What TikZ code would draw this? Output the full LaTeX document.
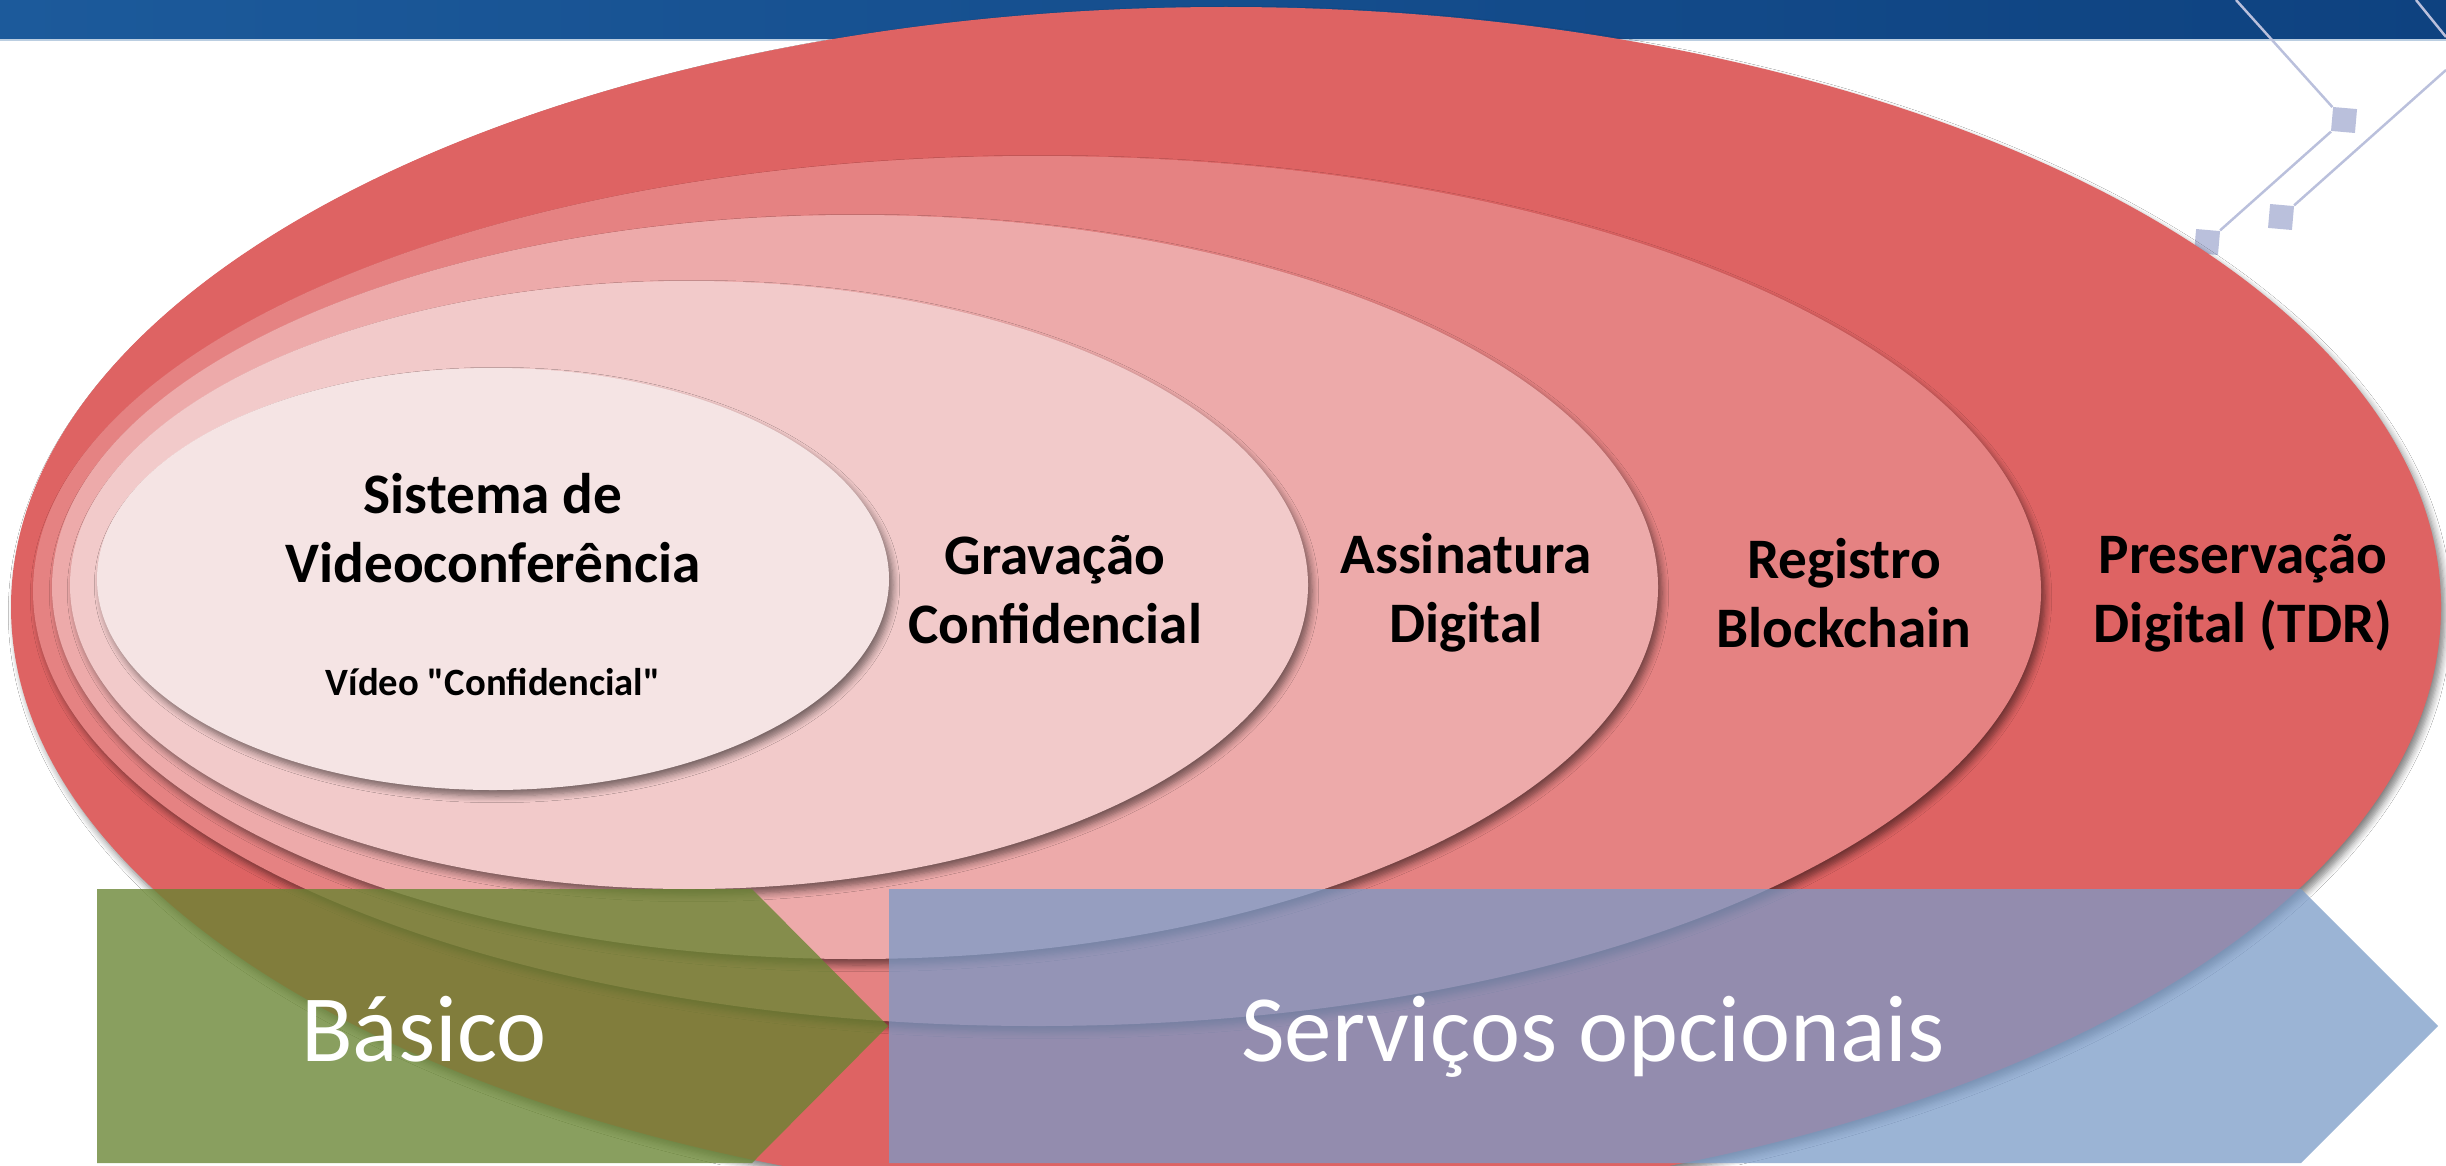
\documentclass[tikz,border=0pt]{standalone}
\usepackage{fontspec}
\setmainfont{Carlito}[Ligatures=TeXOff]
\usetikzlibrary{shadows.blur}

\definecolor{ringA}{RGB}{245,228,228}
\definecolor{ringB}{RGB}{242,202,202}
\definecolor{ringC}{RGB}{237,170,170}
\definecolor{ringD}{RGB}{229,130,130}
\definecolor{ringE}{RGB}{222,99,99}
\definecolor{barleft}{RGB}{28,90,155}
\definecolor{barright}{RGB}{14,66,128}
\definecolor{chipblue}{RGB}{186,192,220}
\definecolor{basegreen}{RGB}{104,133,50}
\definecolor{optblue}{RGB}{122,155,200}

\tikzset{
  ring/.style={blur shadow={shadow xshift=0.04cm, shadow yshift=-0.06cm,
      shadow blur steps=6, shadow opacity=50}},
  lbl/.style={font=\bfseries\fontsize{16.3}{19.6}\selectfont, align=center},
  tag/.style={font=\fontsize{27}{32}\selectfont, text=white, anchor=base},
  chip/.style={fill=chipblue, minimum size=0.24cm, inner sep=0pt, rotate=-5},
  wire/.style={draw=chipblue, line width=0.7pt}
}

\begin{document}
\begin{tikzpicture}
  \useasboundingbox (0,0) rectangle (24.46,11.65);
  \fill[white] (0,0) rectangle (24.46,11.65);

  % top bar
  \shade[left color=barleft, right color=barright] (0,11.25) rectangle (24.46,11.65);
  \draw[white!70!barleft, line width=0.6pt] (0,11.25) -- (24.46,11.25);

  % wires and chips, top right
  \coordinate (w1) at (22.36,11.65);
  \coordinate (w2) at (24.46,10.95);
  \coordinate (w3) at (24.16,11.65);
  \coordinate (w4) at (24.46,11.28);
  \node[chip] (s1) at (23.44,10.45) {};
  \node[chip] (s2) at (22.07,9.23) {};
  \node[chip] (s3) at (22.81,9.48) {};
  \draw[wire] (w1) -- (s1);
  \draw[wire] (s1) -- (s2);
  \draw[wire] (w2) -- (s3);
  \draw[wire] (w3) -- (w4);

  % rings, outer first
  \fill[ringE, ring] (12.26,5.58) ellipse [x radius=12.15, y radius=6.0];
  \fill[ringD, ring] (10.37,5.74) ellipse [x radius=10.04, y radius=4.35];
  \fill[ringC, ring] (8.55,5.78) ellipse [x radius=8.03, y radius=3.72];
  \fill[ringB, ring] (6.89,5.80) ellipse [x radius=6.19, y radius=3.04];
  \fill[ringA, ring] (4.93,5.86) ellipse [x radius=3.96, y radius=2.11];

  % ring labels
  \node[lbl] (sis) at (4.93,6.37) {Sistema de\\Videoconferência};
  \node[font=\bfseries\fontsize{11}{13}\selectfont] (vid) at (4.93,4.83) {Vídeo "Confidencial"};
  \node[lbl] (grv) at (10.55,5.75) {Gravação\\Confidencial};
  \node[lbl] (ass) at (14.66,5.72) {Assinatura\\Digital};
  \node[lbl] (reg) at (18.44,5.72) {Registro\\Blockchain};
  \node[lbl] (pre) at (22.43,5.72) {Preservação\\Digital (TDR)};

  % arrows along the bottom
  \fill[basegreen, fill opacity=0.78] (0.97,2.76) -- (7.52,2.76) -- (8.88,1.39) -- (7.52,0.02) -- (0.97,0.02) -- cycle;
  \fill[optblue, fill opacity=0.75] (8.89,2.76) -- (23.01,2.76) -- (24.38,1.39) -- (23.01,0.02) -- (8.89,0.02) -- cycle;
  \node[tag] (bas) at (4.24,1.04) {Básico};
  \node[tag] (opt) at (15.93,1.04) {Serviços opcionais};
\end{tikzpicture}
\end{document}
